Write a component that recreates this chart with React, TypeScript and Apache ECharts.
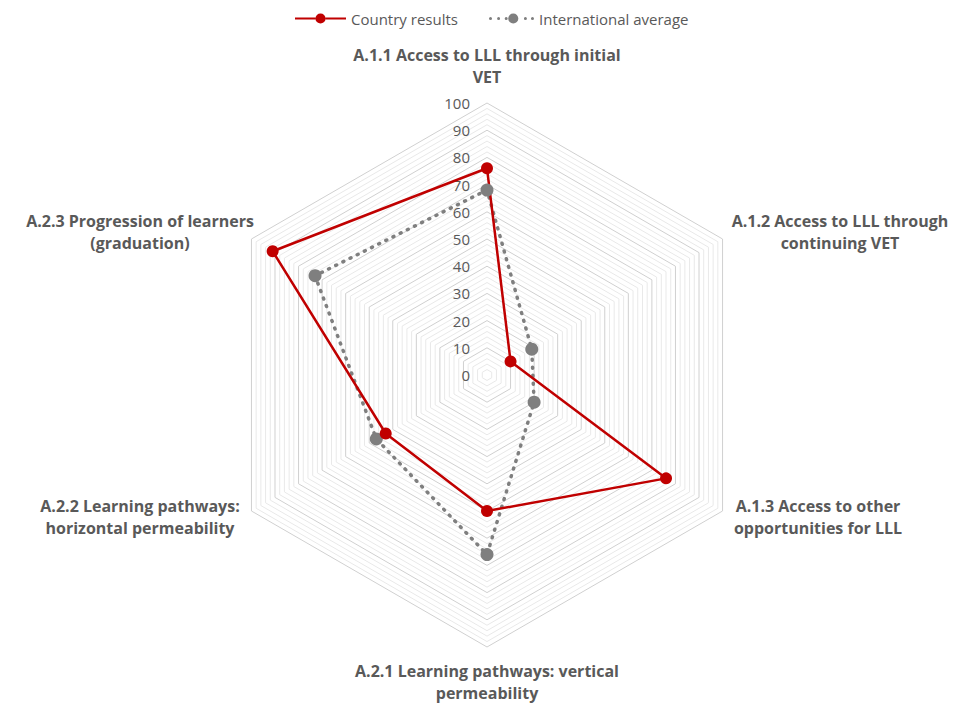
import React, { useEffect, useRef } from "react";
import * as echarts from "echarts";

// Indicators in visual clockwise order starting at top
const categories = [
  "A.1.1 Access to LLL through initial\nVET",
  "A.1.2 Access to LLL through\ncontinuing VET",
  "A.1.3 Access to other\nopportunities for LLL",
  "A.2.1 Learning pathways: vertical\npermeability",
  "A.2.2 Learning pathways:\nhorizontal permeability",
  "A.2.3 Progression of learners\n(graduation)",
];
const countryResults = [76, 10, 76, 50, 43, 91];
const internationalAverage = [68, 19, 20, 66, 47, 73];
const seriesNames = ["Country results", "International average"];

// ECharts places indicators counter-clockwise; reorder so they appear clockwise
const ccwOrder = [0, 5, 4, 3, 2, 1];

const labelPos: [number, number][] = [
  [487, 66],
  [840, 232],
  [818, 517],
  [487, 682],
  [140, 517],
  [140, 232],
];

const COUNTRY_ICON =
  "path://M0,5H20V7H0Z M30,5H50V7H30Z M20,6A5,5 0 1,1 30,6A5,5 0 1,1 20,6Z";
const INTL_ICON =
  "path://M0,6A1.5,1.5 0 1,1 3,6A1.5,1.5 0 1,1 0,6Z M8,6A1.5,1.5 0 1,1 11,6A1.5,1.5 0 1,1 8,6Z M15.5,6A1.5,1.5 0 1,1 18.5,6A1.5,1.5 0 1,1 15.5,6Z M19,6A5,5 0 1,1 29,6A5,5 0 1,1 19,6Z M34.5,6A1.5,1.5 0 1,1 37.5,6A1.5,1.5 0 1,1 34.5,6Z M41.5,6A1.5,1.5 0 1,1 44.5,6A1.5,1.5 0 1,1 41.5,6Z";

export default function App() {
  const ref = useRef<HTMLDivElement>(null);
  useEffect(() => {
    if (!ref.current) return;
    const chart = echarts.init(ref.current, null, { renderer: "svg" });
    const font = "'Open Sans', Lato, sans-serif";
    const indicator = ccwOrder.map((i, k) => {
      const ind: any = { name: categories[i], max: 100, min: 0 };
      if (k === 0) {
        ind.axisLabel = {
          show: true,
          color: "#595959",
          fontSize: 15,
          fontFamily: font,
          margin: 17,
          formatter: (v: number) => (Math.round(v) % 10 === 0 ? String(Math.round(v)) : ""),
        };
      }
      return ind;
    });
    const legendText = { color: "#595959", fontSize: 15, fontFamily: font };
    chart.setOption({
      animation: false,
      backgroundColor: "#ffffff",
      textStyle: { fontFamily: font },
      legend: [
        {
          top: 6,
          left: 290,
          itemWidth: 51,
          itemHeight: 11,
          itemGap: 5,
          textStyle: legendText,
          data: [{ name: seriesNames[0], icon: COUNTRY_ICON }],
        },
        {
          top: 6,
          left: 484,
          itemWidth: 45,
          itemHeight: 11,
          textStyle: legendText,
          data: [{ name: seriesNames[1], icon: INTL_ICON }],
        },
      ],
      radar: {
        center: [487, 375],
        radius: 272,
        startAngle: 90,
        shape: "polygon",
        splitNumber: 50,
        axisName: { show: false },
        axisLine: { show: false },
        axisTick: { show: false },
        axisLabel: { show: false },
        splitArea: { show: false },
        splitLine: {
          lineStyle: {
            color: ["#d0d0d0", "#e9e9e9", "#e9e9e9", "#e9e9e9", "#e9e9e9"],
            width: 1,
          },
        },
        indicator,
      },
      graphic: categories.map((c, i) => ({
        type: "text",
        x: labelPos[i][0],
        y: labelPos[i][1],
        style: {
          text: c,
          fill: "#595959",
          font: `bold 16px ${font}`,
          textAlign: "center",
          textVerticalAlign: "middle",
          lineHeight: 22,
        },
      })),
      series: [
        {
          type: "radar",
          z: 3,
          data: [
            {
              name: seriesNames[1],
              value: ccwOrder.map((i) => internationalAverage[i]),
              symbol: "circle",
              symbolSize: 13,
              itemStyle: { color: "#7f7f7f" },
              lineStyle: { color: "#7f7f7f", width: 3.5, type: [1, 7], cap: "round" },
            },
            {
              name: seriesNames[0],
              value: ccwOrder.map((i) => countryResults[i]),
              symbol: "circle",
              symbolSize: 12,
              itemStyle: { color: "#c00000" },
              lineStyle: { color: "#c00000", width: 2.5 },
            },
          ],
        },
      ],
    });
    return () => chart.dispose();
  }, []);
  return (
    <div
      ref={ref}
      style={{ position: "fixed", left: 0, top: 0, width: 954, height: 704 }}
    />
  );
}
